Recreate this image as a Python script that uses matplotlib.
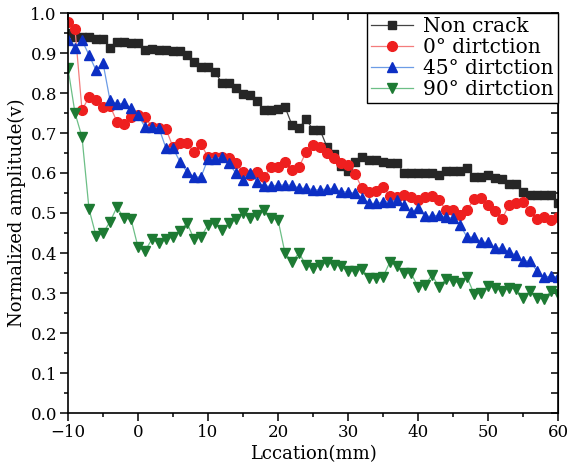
import matplotlib
matplotlib.use("Agg")
import matplotlib.pyplot as plt
from matplotlib.ticker import MultipleLocator, FormatStrFormatter

plt.rcParams["font.family"] = ["DejaVu Serif"]

# sample positions (mm), one reading per millimetre
location = list(range(-10, 61))

non_crack = [
    0.950, 0.940, 0.940, 0.940, 0.935, 0.935, 0.912, 0.927, 0.927, 0.925,
    0.925, 0.907, 0.910, 0.907, 0.907, 0.905, 0.905, 0.895, 0.878, 0.866,
    0.866, 0.853, 0.824, 0.824, 0.812, 0.797, 0.795, 0.780, 0.758, 0.758,
    0.760, 0.765, 0.720, 0.712, 0.735, 0.708, 0.708, 0.665, 0.648, 0.618,
    0.605, 0.628, 0.640, 0.632, 0.632, 0.628, 0.625, 0.625, 0.600, 0.600,
    0.600, 0.600, 0.600, 0.596, 0.605, 0.605, 0.605, 0.612, 0.591, 0.591,
    0.595, 0.588, 0.585, 0.572, 0.572, 0.553, 0.545, 0.545, 0.545, 0.545,
    0.525,
]
dir_0 = [
    0.978, 0.960, 0.757, 0.790, 0.783, 0.765, 0.768, 0.728, 0.722, 0.740,
    0.745, 0.740, 0.715, 0.712, 0.710, 0.665, 0.675, 0.675, 0.652, 0.672,
    0.640, 0.640, 0.640, 0.638, 0.625, 0.603, 0.595, 0.603, 0.590, 0.615,
    0.615, 0.628, 0.607, 0.615, 0.652, 0.670, 0.665, 0.650, 0.638, 0.625,
    0.620, 0.598, 0.562, 0.553, 0.555, 0.565, 0.543, 0.540, 0.545, 0.540,
    0.532, 0.540, 0.543, 0.532, 0.507, 0.507, 0.495, 0.507, 0.535, 0.537,
    0.520, 0.505, 0.485, 0.520, 0.525, 0.528, 0.505, 0.485, 0.490, 0.483,
    0.490,
]
dir_45 = [
    0.932, 0.912, 0.932, 0.895, 0.857, 0.875, 0.782, 0.772, 0.775, 0.762,
    0.745, 0.715, 0.715, 0.712, 0.662, 0.662, 0.628, 0.603, 0.590, 0.590,
    0.635, 0.635, 0.640, 0.624, 0.599, 0.583, 0.601, 0.578, 0.567, 0.567,
    0.570, 0.570, 0.570, 0.562, 0.562, 0.558, 0.558, 0.560, 0.562, 0.553,
    0.553, 0.549, 0.537, 0.524, 0.524, 0.528, 0.528, 0.532, 0.520, 0.502,
    0.512, 0.492, 0.492, 0.495, 0.490, 0.487, 0.470, 0.440, 0.440, 0.427,
    0.427, 0.412, 0.413, 0.402, 0.395, 0.380, 0.380, 0.355, 0.340, 0.342,
    0.340,
]
dir_90 = [
    0.862, 0.750, 0.690, 0.510, 0.443, 0.450, 0.478, 0.515, 0.487, 0.485,
    0.415, 0.405, 0.435, 0.425, 0.435, 0.440, 0.455, 0.475, 0.435, 0.440,
    0.470, 0.475, 0.457, 0.475, 0.485, 0.500, 0.488, 0.495, 0.507, 0.488,
    0.483, 0.400, 0.378, 0.400, 0.370, 0.362, 0.370, 0.378, 0.370, 0.368,
    0.355, 0.356, 0.360, 0.337, 0.337, 0.340, 0.378, 0.368, 0.350, 0.350,
    0.315, 0.320, 0.345, 0.315, 0.335, 0.330, 0.325, 0.340, 0.298, 0.300,
    0.318, 0.313, 0.305, 0.313, 0.310, 0.287, 0.305, 0.287, 0.285, 0.305,
    0.298,
]

labels = ["Non crack", "0° dirtction", "45° dirtction", "90° dirtction"]

fig = plt.figure(figsize=(5.7, 4.7), dpi=100)
ax = fig.add_axes([68 / 570, 1 - 413 / 470, 490 / 570, 400 / 470])

ax.plot(location, non_crack, "-s", color="#444444", lw=0.9, ms=6.3,
        mfc="#262626", mec="#262626", label=labels[0])
ax.plot(location, dir_0, "-o", color="#f47c7c", lw=0.9, ms=7,
        mfc="#ee1f1f", mec="#ee1f1f", label=labels[1])
ax.plot(location, dir_45, "-^", color="#6c9ce6", lw=0.9, ms=7.5,
        mfc="#0c2fc4", mec="#0c2fc4", label=labels[2])
ax.plot(location, dir_90, "-v", color="#6cbf86", lw=0.9, ms=7.5,
        mfc="#1d7a33", mec="#1d7a33", label=labels[3])

ax.set_xlim(-10, 60)
ax.set_ylim(0, 1.0)
ax.xaxis.set_major_locator(MultipleLocator(10))
ax.xaxis.set_minor_locator(MultipleLocator(5))
ax.yaxis.set_major_locator(MultipleLocator(0.1))
ax.yaxis.set_minor_locator(MultipleLocator(0.05))
ax.yaxis.set_major_formatter(FormatStrFormatter("%.1f"))
ax.tick_params(which="major", direction="out", length=6, width=1.1,
               labelsize=12, pad=2)
ax.tick_params(which="minor", direction="out", length=3, width=1.1)
for s in ax.spines.values():
    s.set_linewidth(1.2)

# Origin-style inward ticks on the top and right frame
top = ax.secondary_xaxis("top")
top.set_xticks(range(-10, 61, 5))
top.tick_params(direction="in", length=5, width=1.1, labeltop=False)
right = ax.secondary_yaxis("right")
right.set_yticks([i * 0.05 for i in range(21)])
right.tick_params(direction="in", length=5, width=1.1, labelright=False)

ax.set_xlabel("Lccation(mm)", fontsize=13, labelpad=3)
ax.set_ylabel("Normalized amplitude(v)", fontsize=13, labelpad=3)

leg = ax.legend(loc="upper right", bbox_to_anchor=(1, 1), borderaxespad=0,
                fancybox=False, edgecolor="black", framealpha=1,
                fontsize=14.5, handlelength=2.1, handletextpad=0.5,
                labelspacing=0.1, borderpad=0.2)
leg.get_frame().set_linewidth(1.0)

fig.savefig("out.png", dpi=100)
